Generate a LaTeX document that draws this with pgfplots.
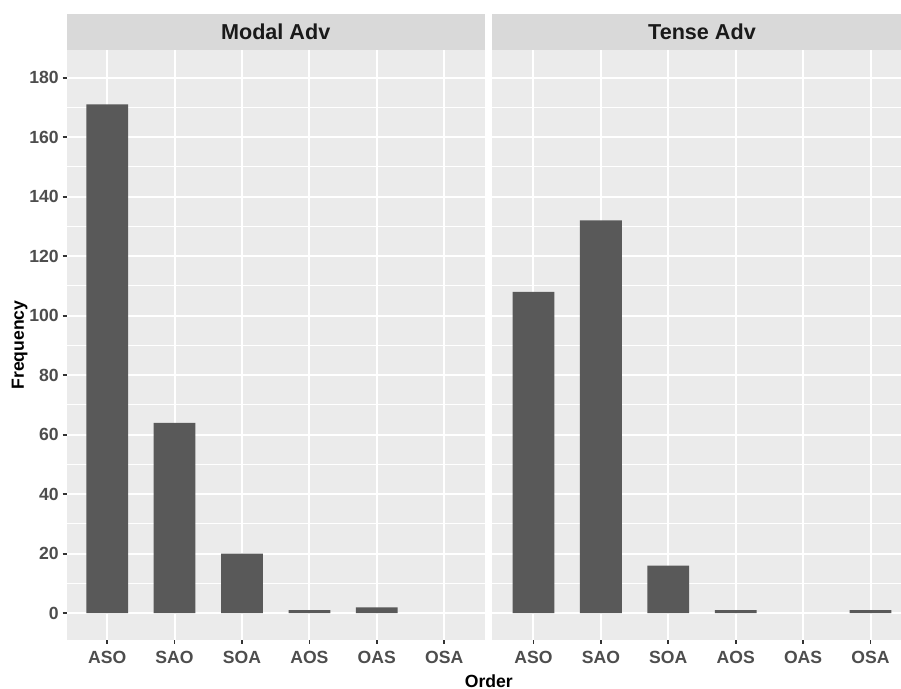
\documentclass[border=0pt]{standalone}
\usepackage{pgfplots}
\pgfplotsset{compat=1.18}
\usepackage{fontspec}
\setmainfont{Liberation Sans}
\definecolor{panelbg}{HTML}{EBEBEB}
\definecolor{stripbg}{HTML}{D9D9D9}
\definecolor{barfill}{HTML}{595959}
\definecolor{ticklab}{HTML}{4D4D4D}
\definecolor{tickcol}{HTML}{333333}
\definecolor{striptext}{HTML}{1A1A1A}
\tikzset{strip/.style={anchor=south, fill=stripbg, minimum height=18pt,
      inner sep=0pt, text=striptext, font=\bfseries\fontsize{10.8}{12}\selectfont}}
\pgfplotsset{
  facet/.style={
    scale only axis, height=295pt,
    ymin=-9, ymax=189.3,
    axis background/.style={fill=panelbg},
    axis line style={draw=none},
    xtick pos=lower, ytick pos=lower,
    ytick={0,20,...,180}, minor ytick={10,30,...,170},
    xtick={1,2,3,4,5,6}, xticklabels={ASO,SAO,SOA,AOS,OAS,OSA},
    grid=both,
    major grid style={white, line width=1pt},
    minor grid style={white, line width=0.5pt},
    tick align=outside, major tick length=2pt, minor tick length=0pt,
    every tick/.style={tickcol, line width=0.9pt},
    ticklabel style={font=\bfseries\fontsize{8.8}{10}\selectfont, text=ticklab},
    yticklabel style={inner xsep=1.8pt},
    /pgf/number format/assume math mode=true,
    ybar, bar width=0.62,
  },
}
\begin{document}
\begin{tikzpicture}
\useasboundingbox (0,0) rectangle (450.5pt,344.5pt);
\begin{axis}[facet, at={(33.35pt,24.5pt)}, anchor=south west, width=209pt,
  xmin=0.4, xmax=6.6, clip=false]
\addplot[fill=barfill, draw=none] coordinates {(1,171) (2,64) (3,20) (4,1) (5,2)};
\node[strip, minimum width=209pt] at (rel axis cs:0.5,1) {Modal Adv};
\end{axis}
\begin{axis}[facet, at={(246pt,24.5pt)}, anchor=south west, width=204.5pt,
  xmin=0.385, xmax=6.452, yticklabels={}, ytick style={draw=none}, clip=false]
\addplot[fill=barfill, draw=none] coordinates {(1,108) (2,132) (3,16) (4,1) (6,1)};
\node[strip, minimum width=210pt] at (rel axis cs:0.5134,1) {Tense Adv};
\end{axis}
\node[anchor=base, font=\bfseries\fontsize{8.8}{10}\selectfont] at (244.4pt,0.85pt) {Order};
\node[anchor=base, rotate=90, font=\bfseries\fontsize{8.8}{10}\selectfont] at (12pt,172pt) {Frequency};
\end{tikzpicture}
\end{document}
